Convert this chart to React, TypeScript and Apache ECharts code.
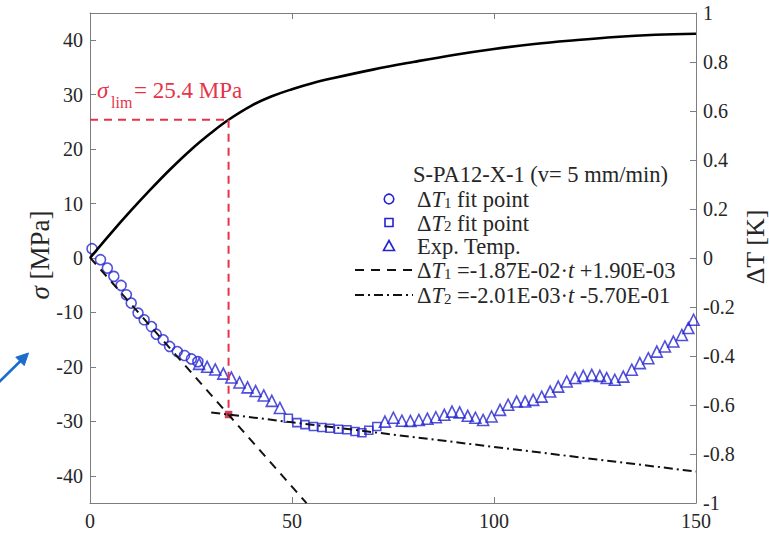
import React, { useEffect, useRef } from "react";
import * as echarts from "echarts";

// ---- axes -------------------------------------------------------------
const T_MIN = 0;
const T_MAX = 150;
const T_STEP = 50;
const SIGMA_MIN = -45;
const SIGMA_MAX = 45;
const SIGMA_TICKS = [-40, -30, -20, -10, 0, 10, 20, 30, 40];
const DT_MIN = -1;
const DT_MAX = 1;
const DT_STEP = 0.2;

// ---- stress curve (left axis, MPa) -------------------------------------
const stressTime = [0, 5, 10, 15, 20, 25, 30, 34.3, 40, 45, 50, 55, 60, 70, 80, 90, 100, 110, 120, 130, 140, 150];
const stressValue = [0, 4.4, 8.6, 12.6, 16.4, 19.9, 23.0, 25.4, 28.0, 29.7, 31.0, 32.1, 33.0, 34.6, 36.0, 37.3, 38.4, 39.3, 40.0, 40.6, 41.0, 41.2];

// ---- temperature change (right axis, K) --------------------------------
const fit1Time = [0.5, 2.6, 4.3, 5.9, 7.7, 9.0, 10.2, 11.9, 13.4, 15.2, 16.4, 18.1, 19.7, 21.6, 23.4, 25.1, 26.7];
const fit1Temp = [0.038, -0.007, -0.041, -0.075, -0.112, -0.15, -0.184, -0.225, -0.252, -0.28, -0.311, -0.334, -0.361, -0.382, -0.398, -0.412, -0.423];

const fit2Time = [49.1, 51.2, 53.2, 55.3, 57.4, 59.4, 61.5, 63.6, 65.6, 67.3, 69.0, 71.0];
const fit2Temp = [-0.654, -0.672, -0.68, -0.688, -0.692, -0.695, -0.699, -0.701, -0.708, -0.713, -0.703, -0.688];

const expTime = [
  27.0, 29.0, 31.0, 33.0, 35.0, 37.0, 39.0, 41.0, 43.0, 45.0, 47.0,
  73.0, 75.1, 77.2, 79.3, 81.4, 83.5, 85.6, 87.7, 89.6, 91.5, 93.5, 95.4, 97.3, 99.4,
  101.5, 103.5, 105.6, 107.7, 109.7, 111.8, 113.9, 115.9, 118.0, 120.1, 122.1, 124.2,
  126.2, 127.9, 129.9, 132.0, 134.1, 136.1, 138.2, 140.3, 142.3, 144.4, 146.5, 148.1, 149.4,
];
const expTemp = [
  -0.432, -0.444, -0.455, -0.472, -0.488, -0.508, -0.528, -0.543, -0.561, -0.583, -0.612,
  -0.668, -0.652, -0.664, -0.665, -0.661, -0.656, -0.65, -0.64, -0.627, -0.63, -0.644, -0.652, -0.661, -0.647,
  -0.62, -0.599, -0.586, -0.586, -0.579, -0.566, -0.545, -0.525, -0.504, -0.49, -0.481, -0.477,
  -0.481, -0.49, -0.497, -0.484, -0.456, -0.429, -0.409, -0.382, -0.361, -0.341, -0.314, -0.286, -0.252,
];

// ---- linear fits, as given in the legend -------------------------------
const FIT1_SLOPE = -1.87e-2;
const FIT1_INTERCEPT = 1.9e-3;
const FIT1_SPAN = [0, 53.6];
const FIT2_SLOPE = -2.01e-3;
const FIT2_INTERCEPT = -5.7e-1;
const FIT2_SPAN = [30, 150];

// ---- stress limit -------------------------------------------------------
const T_LIM = 34.3;
const SIGMA_LIM = 25.4;

const FONT = '"Liberation Serif", "Times New Roman", serif';
const INK = "#262626";
const AXIS_GRAY = "#7d7d7d";
const BLUE = "#2424cf";
const RED = "#e6334a";
const ARROW_BLUE = "#1a6dcc";

const zip = (xs: number[], ys: number[]) => xs.map((x, i) => [x, ys[i]]);
const sigmaToDt = (s: number) =>
  DT_MIN + ((s - SIGMA_MIN) * (DT_MAX - DT_MIN)) / (SIGMA_MAX - SIGMA_MIN);
const fitLine = (slope: number, icpt: number, span: number[]) =>
  span.map((t) => [t, slope * t + icpt]);

const axisCommon = {
  type: "value" as const,
  axisLine: { show: true, onZero: false, lineStyle: { color: AXIS_GRAY, width: 1 } },
  axisTick: { show: true, inside: true, length: 6, lineStyle: { color: AXIS_GRAY, width: 1 } },
  axisLabel: { color: INK, fontSize: 20, fontFamily: FONT },
  splitLine: { show: false },
};

const LEG_FS = 22.5;
const legendRich = {
  n: { fontFamily: FONT, fontSize: LEG_FS, fill: INK, color: INK, lineHeight: 22, verticalAlign: "top" },
  i: { fontFamily: FONT, fontSize: LEG_FS, fontStyle: "italic", fill: INK, color: INK, lineHeight: 22, verticalAlign: "top" },
  s: { fontFamily: FONT, fontSize: 15, fill: INK, color: INK, lineHeight: 13, verticalAlign: "bottom" },
};

const hollow = { color: "rgba(0,0,0,0)", borderColor: BLUE, borderWidth: 1.6 };

function buildOption() {
  const dtLim = FIT2_SLOPE * T_LIM + FIT2_INTERCEPT;
  const legendX = 417;
  const markX = 389;
  const rows = [199, 222.5, 246, 270, 295];

  const legendText = (y: number, text: string) => ({
    type: "text",
    x: legendX,
    y,
    style: { text, rich: legendRich, fill: INK, textVerticalAlign: "middle", verticalAlign: "middle", fontFamily: FONT, fontSize: LEG_FS },
  });

  return {
    animation: false,
    backgroundColor: "#ffffff",
    grid: { left: 90, top: 13, width: 606, height: 490, containLabel: false },
    xAxis: [
      {
        ...axisCommon,
        position: "bottom",
        min: T_MIN,
        max: T_MAX,
        interval: T_STEP,
        axisLabel: { ...axisCommon.axisLabel, margin: 8 },
      },
      {
        ...axisCommon,
        position: "top",
        min: T_MIN,
        max: T_MAX,
        interval: T_STEP,
        axisLabel: { show: false },
      },
    ],
    yAxis: [
      {
        ...axisCommon,
        position: "left",
        min: SIGMA_MIN,
        max: SIGMA_MAX,
        axisLabel: { ...axisCommon.axisLabel, margin: 7, customValues: SIGMA_TICKS },
        axisTick: { ...axisCommon.axisTick, customValues: SIGMA_TICKS },
      },
      {
        ...axisCommon,
        position: "right",
        min: DT_MIN,
        max: DT_MAX,
        interval: DT_STEP,
        axisLabel: { ...axisCommon.axisLabel, margin: 7 },
      },
    ],
    series: [
      {
        type: "line",
        yAxisIndex: 1,
        data: fitLine(FIT1_SLOPE, FIT1_INTERCEPT, FIT1_SPAN),
        showSymbol: false,
        lineStyle: { color: "#111", width: 2, type: [9, 7] },
        silent: true,
      },
      {
        type: "line",
        yAxisIndex: 1,
        data: fitLine(FIT2_SLOPE, FIT2_INTERCEPT, FIT2_SPAN),
        showSymbol: false,
        lineStyle: { color: "#111", width: 2, type: [9, 4, 2, 4] },
        silent: true,
      },
      {
        type: "scatter",
        yAxisIndex: 1,
        data: zip(fit1Time, fit1Temp),
        symbol: "circle",
        symbolSize: 10,
        itemStyle: hollow,
        silent: true,
      },
      {
        type: "scatter",
        yAxisIndex: 1,
        data: zip(fit2Time, fit2Temp),
        symbol: "rect",
        symbolSize: 8,
        itemStyle: hollow,
        silent: true,
      },
      {
        type: "scatter",
        yAxisIndex: 1,
        data: zip(expTime, expTemp),
        symbol: "triangle",
        symbolSize: 11,
        itemStyle: hollow,
        silent: true,
      },
      {
        type: "line",
        yAxisIndex: 0,
        data: zip(stressTime, stressValue),
        smooth: 0.4,
        showSymbol: false,
        lineStyle: { color: "#000", width: 2.6 },
        silent: true,
      },
      {
        type: "line",
        yAxisIndex: 0,
        data: [
          [T_MIN, SIGMA_LIM],
          [T_LIM, SIGMA_LIM],
        ],
        showSymbol: false,
        lineStyle: { color: RED, width: 2, type: [8, 6] },
        silent: true,
      },
      {
        type: "line",
        yAxisIndex: 1,
        data: [
          [T_LIM, sigmaToDt(SIGMA_LIM)],
          [T_LIM, dtLim],
        ],
        showSymbol: false,
        lineStyle: { color: RED, width: 2, type: [8, 6] },
        silent: true,
      },
      {
        type: "scatter",
        yAxisIndex: 1,
        data: [[T_LIM, dtLim]],
        symbol: "rect",
        symbolSize: 7.5,
        itemStyle: { color: "#c8102e" },
        silent: true,
      },
    ],
    graphic: [
      // axis titles
      {
        type: "text",
        x: 40,
        y: 255,
        rotation: Math.PI / 2,
        style: {
          text: "{i|σ}{n| [MPa]}",
          rich: {
            n: { fontFamily: FONT, fontSize: 27, fill: INK, color: INK },
            i: { fontFamily: FONT, fontSize: 27, fontStyle: "italic", fill: INK, color: INK },
          },
          textAlign: "center",
          align: "center",
          textVerticalAlign: "middle",
          verticalAlign: "middle",
        },
      },
      {
        type: "text",
        x: 755,
        y: 247,
        rotation: Math.PI / 2,
        style: {
          text: "ΔT [K]",
          fontFamily: FONT,
          fontSize: 26,
          fill: INK,
          textAlign: "center",
          align: "center",
          textVerticalAlign: "middle",
          verticalAlign: "middle",
        },
      },
      // stress-limit annotation
      {
        type: "text",
        x: 97,
        y: 90,
        style: { text: "σ", fontFamily: FONT, fontSize: 23, fontStyle: "italic", fill: RED, textVerticalAlign: "middle", verticalAlign: "middle" },
      },
      {
        type: "text",
        x: 111,
        y: 102,
        style: { text: "lim", fontFamily: FONT, fontSize: 16, fill: RED, textVerticalAlign: "middle", verticalAlign: "middle" },
      },
      {
        type: "text",
        x: 134,
        y: 90,
        style: { text: `= ${SIGMA_LIM} MPa`, fontFamily: FONT, fontSize: 23, fill: RED, textVerticalAlign: "middle", verticalAlign: "middle" },
      },
      // legend
      {
        type: "text",
        x: 413,
        y: 174,
        style: { text: "S-PA12-X-1 (v= 5 mm/min)", fontFamily: FONT, fontSize: LEG_FS, fill: INK, textVerticalAlign: "middle", verticalAlign: "middle" },
      },
      {
        type: "circle",
        shape: { cx: markX, cy: rows[0], r: 4.8 },
        style: { fill: "none", stroke: BLUE, lineWidth: 1.6 },
      },
      {
        type: "rect",
        shape: { x: markX - 4, y: rows[1] - 4, width: 8, height: 8 },
        style: { fill: "none", stroke: BLUE, lineWidth: 1.6 },
      },
      {
        type: "polygon",
        shape: { points: [[markX, rows[2] - 5.5], [markX - 5.5, rows[2] + 4.5], [markX + 5.5, rows[2] + 4.5]] },
        style: { fill: "none", stroke: BLUE, lineWidth: 1.6 },
      },
      {
        type: "line",
        shape: { x1: 355, y1: rows[3], x2: 413, y2: rows[3] },
        style: { stroke: "#111", lineWidth: 2, lineDash: [9, 7] },
      },
      {
        type: "line",
        shape: { x1: 355, y1: rows[4], x2: 413, y2: rows[4] },
        style: { stroke: "#111", lineWidth: 2, lineDash: [9, 4, 2, 4] },
      },
      legendText(rows[0], "{n|Δ}{i|T}{s|1}{n| fit point}"),
      legendText(rows[1], "{n|Δ}{i|T}{s|2}{n| fit point}"),
      legendText(rows[2], "{n|Exp. Temp.}"),
      legendText(rows[3], "{n|Δ}{i|T}{s|1}{n| =-1.87E-02·}{i|t}{n| +1.90E-03}"),
      legendText(rows[4], "{n|Δ}{i|T}{s|2}{n| =-2.01E-03·}{i|t}{n| -5.70E-01}"),
      // pointer arrow at the left margin
      {
        type: "line",
        shape: { x1: -3, y1: 384, x2: 21, y2: 360.5 },
        style: { stroke: ARROW_BLUE, lineWidth: 2.6 },
      },
      {
        type: "polygon",
        shape: { points: [[28.5, 353], [24.2, 365.6], [15.8, 357.2]] },
        style: { fill: ARROW_BLUE, stroke: ARROW_BLUE, lineWidth: 1 },
      },
    ],
  };
}

export default function App() {
  const ref = useRef<HTMLDivElement>(null);
  useEffect(() => {
    if (!ref.current) return;
    const chart = echarts.init(ref.current, undefined, { renderer: "svg" });
    chart.setOption(buildOption() as any);
    return () => chart.dispose();
  }, []);
  return <div ref={ref} style={{ width: 769, height: 537, position: "absolute", left: 0, top: 0 }} />;
}
